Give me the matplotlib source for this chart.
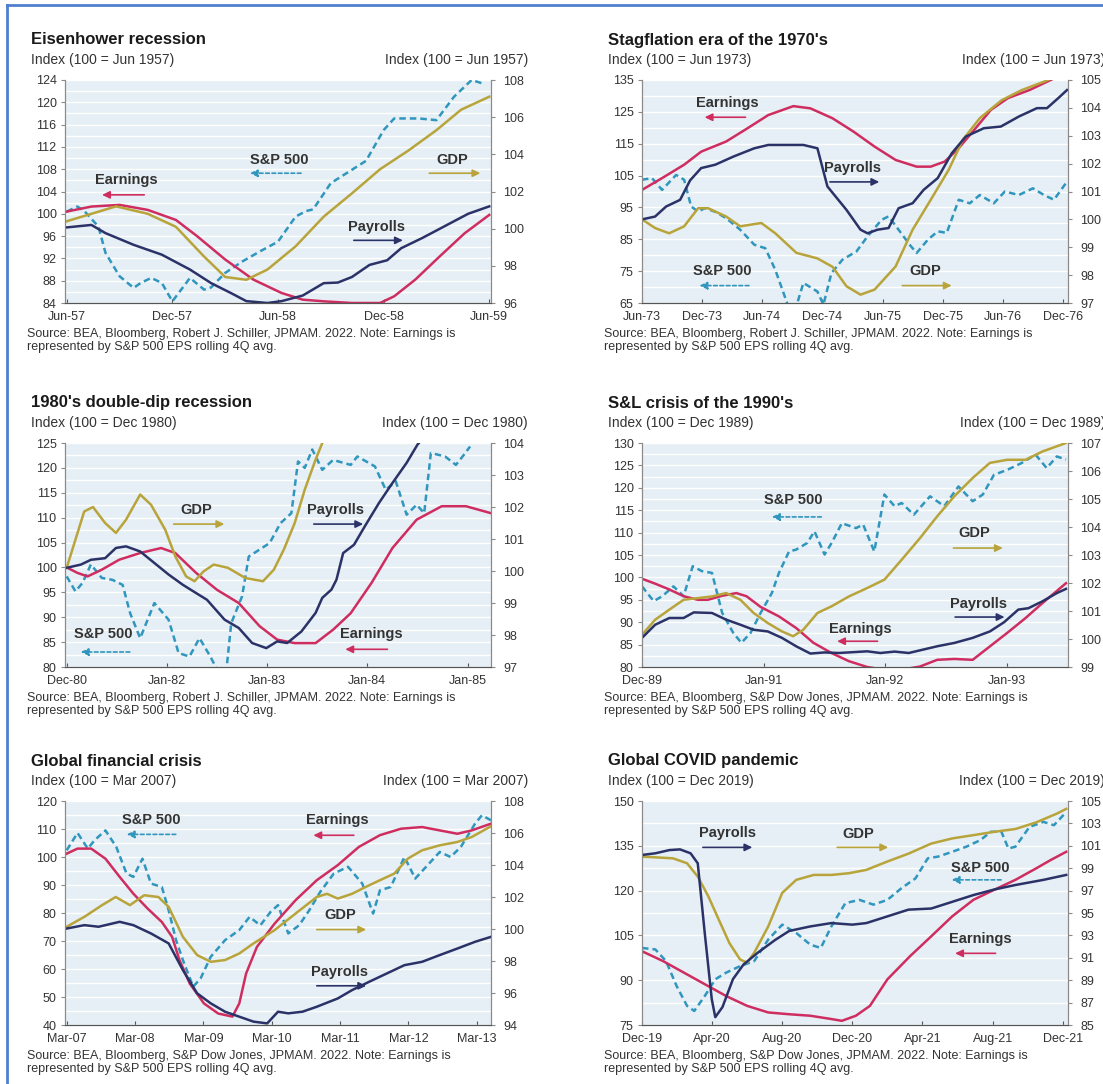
import numpy as np
import matplotlib.pyplot as plt
from matplotlib.lines import Line2D
from matplotlib.ticker import AutoMinorLocator

plt.rcParams['font.family'] = ['Liberation Sans', 'DejaVu Sans']

W, H = 1103, 1084

# colours
EARN_C = '#cf2d60'
PAY_C = '#2b3268'
GDP_C = '#b8a43a'
SP_C = '#3096bd'
BG_C = '#e5eff5'
TXT_C = '#333333'

SRC_SHILLER = ("Source: BEA, Bloomberg, Robert J. Schiller, JPMAM. 2022. Note: Earnings is\n"
               "represented by S&P 500 EPS rolling 4Q avg.")
SRC_DJ = ("Source: BEA, Bloomberg, S&P Dow Jones, JPMAM. 2022. Note: Earnings is\n"
          "represented by S&P 500 EPS rolling 4Q avg.")

# ==========================================
# 1. DATA  (x = months after the base month)
# ==========================================

# --- Eisenhower recession, base Jun-57 ---
eis_xticks = [0, 6, 12, 18, 24]
eis_xlabels = ['Jun-57', 'Dec-57', 'Jun-58', 'Dec-58', 'Jun-59']
eis_earn = [(0, 100.4), (1.4, 101.3), (3, 101.6), (4.6, 100.7), (6.2, 98.9), (7.4, 96), (9, 91.8),
            (10.6, 88.2), (12.2, 85.8), (13.4, 84.6), (14.6, 84.3), (16.2, 84), (17.8, 84),
            (18.6, 85.2), (19.8, 88.2), (21.2, 92.4), (22.6, 96.5), (24, 99.8)]
eis_sp = [(0, 100.4), (0.6, 101.3), (1, 100.5), (1.8, 97.7), (2.2, 93), (3, 88.8), (3.8, 86.7),
          (4.2, 87.6), (4.8, 88.5), (5.4, 87.6), (6, 84.3), (7, 88.5), (7.8, 86.4), (8.2, 86.8),
          (9, 89.4), (10, 91.5), (11, 93.3), (12, 95), (13, 99.5), (13.6, 100.5), (14, 100.8),
          (15, 105.5), (16, 107.5), (17, 109.5), (18, 115), (18.6, 117.1), (20, 117.1),
          (21, 116.8), (22, 121), (23, 124), (23.6, 123.4)]
eis_gdp = [(0, 100.4), (2.8, 101.2), (4.6, 100.8), (6.2, 100.1), (7.8, 98.5), (9, 97.4),
           (10.2, 97.25), (11.4, 97.8), (13, 99.05), (14.6, 100.65), (16.2, 101.9), (17.8, 103.2),
           (19.4, 104.2), (21, 105.3), (22.4, 106.4), (24, 107.1)]
eis_pay = [(0, 100.07), (1.4, 100.2), (2.2, 99.76), (3.8, 99.13), (5.4, 98.6), (7, 97.8),
           (8.2, 97.07), (9.4, 96.5), (10.2, 96.1), (11.4, 96.0), (12.2, 96.1), (13.4, 96.4),
           (14.6, 97.07), (15.4, 97.1), (16.2, 97.4), (17.2, 98.05), (18.2, 98.3), (19, 98.95),
           (20.2, 99.5), (21.4, 100.1), (22.8, 100.8), (24, 101.2)]

# --- Stagflation era, base Jun-73 ---
stag_xticks = [0, 6, 12, 18, 24, 30, 36, 42]
stag_xlabels = ['Jun-73', 'Dec-73', 'Jun-74', 'Dec-74', 'Jun-75', 'Dec-75', 'Jun-76', 'Dec-76']
stag_earn = [(0, 100.5), (2, 104.2), (4.2, 108.4), (5.9, 112.5), (8.4, 115.7), (10.5, 119.8),
             (12.6, 124), (15.1, 126.8), (16.8, 126.1), (19, 123), (21.1, 118.8), (23.2, 114.1),
             (25.3, 109.9), (27.4, 107.8), (28.8, 107.8), (30.2, 109.4), (31.6, 113.6), (33, 118.8),
             (34.8, 125.6), (36.5, 129.3), (38.7, 131.9), (41.1, 135.5)]
stag_sp = [(0, 103.7), (1, 104.2), (2, 100.5), (3.4, 105.2), (4.2, 103.7), (4.9, 95.3), (5.6, 93.7),
           (6.3, 94.8), (7.4, 93.5), (8.4, 91.6), (9.8, 88), (11.2, 83.3), (12.3, 82.2), (13.3, 75.4),
           (14.7, 63), (15.4, 64), (16.1, 71.3), (17.5, 68.6), (18.1, 64.5), (18.9, 74.4), (20, 78.6),
           (21.4, 81.2), (22.5, 85.9), (23.9, 91.1), (24.6, 92.2), (25.6, 88), (26.7, 83.3),
           (27.4, 80.7), (28.5, 84.8), (29.5, 87.5), (30.4, 87), (31.6, 97.4), (32.7, 96.3),
           (33.7, 98.9), (35.1, 96.3), (36.2, 100), (37.6, 98.9), (39, 101), (40.1, 98.9),
           (41.1, 97.4), (42.4, 103.1)]
stag_gdp = [(0, 100), (1.3, 99.69), (2.7, 99.5), (4.2, 99.75), (5.6, 100.4), (6.6, 100.4),
            (8.4, 100.1), (9.8, 99.75), (11.9, 99.87), (13.3, 99.5), (15.4, 98.8), (17.5, 98.6),
            (19, 98.3), (20.4, 97.6), (21.8, 97.3), (23.2, 97.48), (25.3, 98.31), (27, 99.63),
            (28.8, 100.7), (30.6, 101.78), (32, 102.85), (33.7, 103.63), (35.9, 104.28),
            (37.9, 104.64), (40.1, 104.94), (41.1, 105.1)]
stag_pay = [(0, 100), (1.3, 100.1), (2.4, 100.46), (3.8, 100.7), (4.8, 101.4), (5.9, 101.84),
            (7.3, 101.96), (9.1, 102.25), (11.2, 102.55), (12.6, 102.67), (14, 102.67),
            (16.1, 102.67), (17.5, 102.55), (18.5, 101.18), (20.4, 100.34), (21.8, 99.63),
            (22.5, 99.5), (23.5, 99.63), (24.6, 99.69), (25.6, 100.4), (27, 100.58), (28.1, 101.06),
            (29.5, 101.48), (30.9, 102.37), (32.3, 102.97), (34.1, 103.27), (35.8, 103.33),
            (37.6, 103.69), (39.4, 103.99), (40.4, 103.99), (41.5, 104.34), (42.4, 104.64)]

# --- 1980's double-dip, base Dec-80 ---
dd_xticks = [0, 12, 24, 36, 48]
dd_xlabels = ['Dec-80', 'Jan-82', 'Jan-83', 'Jan-84', 'Jan-85']
dd_earn = [(0, 100), (1.3, 98.9), (2.5, 98.2), (4.2, 99.55), (6.3, 101.56), (8.8, 102.9),
           (11.3, 103.9), (13, 102.9), (15.5, 98.9), (18, 95.5), (20.6, 92.85), (23.1, 88.2),
           (25.2, 85.5), (27.3, 84.8), (29.8, 84.8), (31.9, 87.5), (34, 90.8), (36.5, 96.9),
           (39, 103.9), (41.9, 109.6), (44.9, 112.3), (47.8, 112.3), (50.8, 110.9)]
dd_sp = [(0, 98.2), (1.05, 95.2), (1.9, 96.9), (2.9, 100.6), (4.2, 97.9), (5.5, 97.5), (6.7, 96.5),
         (7.6, 90.8), (8.8, 85.8), (10.5, 92.85), (12.2, 89.5), (13.4, 82.8), (14.7, 82.1),
         (15.9, 85.8), (17.2, 82.1), (18, 79.5), (19.1, 79), (19.7, 88.8), (21, 94.2), (21.8, 102.2),
         (23.1, 103.6), (24.3, 104.9), (25.6, 108.9), (26.9, 110.9), (27.7, 121.3), (28.5, 120),
         (29.4, 123.7), (30.6, 119.6), (31.9, 121.6), (34, 120.6), (34.8, 122.3), (36.9, 120.3),
         (38.2, 115.6), (39.4, 117.3), (40.7, 110.6), (41.9, 112.6), (42.8, 110.9), (43.6, 123),
         (45.3, 122.3), (46.6, 120.6), (47.4, 122.3), (48.3, 124.3)]
dd_gdp = [(0, 100.1), (1.05, 100.98), (2.1, 101.86), (3.15, 102.0), (4.6, 101.5), (5.9, 101.19),
          (7.1, 101.6), (8.8, 102.39), (10.1, 102.07), (11.8, 101.29), (13, 100.46), (14.3, 99.83),
          (15.3, 99.68), (16.4, 99.99), (17.6, 100.2), (19.3, 100.1), (21.4, 99.78), (23.5, 99.68),
          (24.8, 100.04), (26, 100.67), (27.3, 101.5), (28.5, 102.54), (29.8, 103.48), (30.6, 104),
          (31.5, 104.5)]
dd_pay = [(0, 100.1), (1.7, 100.2), (2.9, 100.35), (4.6, 100.4), (5.9, 100.72), (7.1, 100.77),
          (8.8, 100.61), (10.5, 100.25), (12.2, 99.89), (13.9, 99.57), (15.5, 99.31), (16.8, 99.1),
          (18.9, 98.48), (20.6, 98.22), (22.2, 97.75), (23.9, 97.59), (25.2, 97.8), (26.4, 97.75),
          (28.1, 98.11), (29.8, 98.69), (30.6, 99.16), (31.7, 99.42), (32.3, 99.73), (33.1, 100.56),
          (34.4, 100.82), (35.7, 101.4), (37.4, 102.13), (39, 102.75), (40.7, 103.38), (42, 103.95),
          (42.5, 104.1)]

# --- S&L crisis, base Dec-89 ---
snl_xticks = [0, 12, 24, 36]
snl_xlabels = ['Dec-89', 'Jan-91', 'Jan-92', 'Jan-93']
snl_earn = [(0, 99.7), (1.3, 98.6), (2.7, 97.3), (4.1, 95.8), (5.5, 95.0), (6.5, 95.0), (7.9, 95.9),
            (9.3, 96.5), (10.3, 95.8), (11.7, 93.4), (13.5, 91.3), (15.2, 88.7), (16.9, 85.4),
            (18.7, 83.1), (20.4, 81.3), (22.2, 80), (23.9, 79.4), (25.6, 79.4), (27.4, 80.1),
            (29.1, 81.6), (30.8, 81.8), (32.6, 81.6), (34.3, 84.6), (36, 87.6), (37.8, 90.9),
            (39.5, 94.3), (41.8, 98.7)]
snl_sp = [(0, 98), (1.15, 94.7), (2, 95.8), (3.1, 98), (4.1, 95.8), (5, 102.5), (5.9, 101.4),
          (6.9, 101), (7.9, 92.1), (9, 87.6), (9.8, 85.4), (10.7, 87.6), (11.7, 92.1), (12.8, 96.5),
          (13.5, 101), (14.5, 105.8), (15.2, 106.2), (16.3, 107.7), (17, 110.3), (18, 105.1),
          (18.7, 107.7), (19.7, 112.1), (21.1, 111), (21.8, 111.8), (22.9, 105.8), (23.9, 118.5),
          (24.9, 115.9), (25.6, 116.6), (26.8, 114), (28.4, 118.1), (29.8, 115.9), (31.2, 120.3),
          (32.6, 117), (33.6, 118.5), (34.7, 122.9), (36, 124), (37.4, 125.5), (38.8, 127.4),
          (39.9, 124.4), (40.9, 127), (41.8, 126.3)]
snl_gdp = [(0, 100.15), (1.3, 100.69), (2.7, 101.05), (4.1, 101.4), (5.5, 101.46), (6.9, 101.52),
           (8.3, 101.64), (9.7, 101.4), (11, 100.93), (12.4, 100.57), (13.8, 100.27), (14.9, 100.1),
           (15.9, 100.33), (17.3, 100.93), (18.7, 101.17), (20.4, 101.52), (22.2, 101.82),
           (23.9, 102.12), (25.6, 102.83), (27.4, 103.6), (29.1, 104.38), (30.8, 105.1),
           (32.6, 105.75), (34.3, 106.29), (36, 106.4), (37.8, 106.4), (39.5, 106.7), (41.8, 107)]
snl_pay = [(0, 100.04), (1.3, 100.51), (2.7, 100.75), (4.1, 100.75), (5.1, 100.95), (6.9, 100.93),
           (8.3, 100.69), (9.7, 100.51), (11, 100.33), (12.4, 100.27), (13.8, 100.04), (15.2, 99.74),
           (16.6, 99.48), (18, 99.52), (19.4, 99.5), (20.8, 99.53), (22.2, 99.56), (23.5, 99.5),
           (24.9, 99.55), (26.3, 99.5), (27.7, 99.62), (29.1, 99.74), (30.8, 99.86), (32.6, 100.04),
           (34.3, 100.27), (35.7, 100.6), (37.1, 101.05), (38.1, 101.1), (39.5, 101.35),
           (40.9, 101.64), (41.8, 101.79)]

# --- Global financial crisis, base Mar-07 ---
gfc_xticks = [0, 12, 24, 36, 48, 60, 72]
gfc_xlabels = ['Mar-07', 'Mar-08', 'Mar-09', 'Mar-10', 'Mar-11', 'Mar-12', 'Mar-13']
gfc_earn = [(0, 101.2), (1.9, 103), (4.3, 103), (6.8, 99.4), (9.3, 92.9), (11.7, 86.9), (14.2, 81.6),
            (16.7, 76.8), (18.5, 71.5), (19.8, 63.2), (21.6, 54.8), (24.1, 47.7), (26.6, 44.1),
            (29.1, 43), (30.3, 47.7), (31.5, 58.4), (33.4, 67.9), (36.5, 76.2), (40.2, 84.6),
            (43.9, 91.7), (47.6, 97.1), (51.3, 103.6), (55, 107.8), (58.7, 110.1), (62.4, 110.7),
            (65.5, 109.5), (68.6, 108.3), (71.1, 109.5), (74.5, 111.9)]
gfc_sp = [(0, 102.4), (1.9, 108.6), (3.7, 103), (4.9, 106), (6.8, 109.5), (8.7, 103.6), (10.5, 94.1),
          (11.7, 92.9), (13.3, 99.4), (14.8, 90.5), (16.7, 89.3), (17.9, 81), (19.2, 70.3),
          (20.4, 63.2), (22.2, 53.7), (23.5, 56.6), (25.3, 64.4), (27.8, 70.3), (30.3, 73.9),
          (32.1, 78.6), (34, 75.6), (35.8, 80.4), (37.1, 82.8), (38.9, 72.7), (40.8, 75.6),
          (42.6, 81), (44.5, 87.5), (46.9, 94.1), (49.4, 96.5), (51.9, 90.5), (53.8, 79.8),
          (55, 88.1), (56.9, 89.3), (59.3, 100), (61.2, 92.3), (63.1, 96.5), (65.5, 101.8),
          (67.4, 100), (69.2, 103.6), (71.7, 111.9), (72.9, 114.9), (74.5, 113.1)]
gfc_gdp = [(0, 100.14), (3.1, 100.76), (6.2, 101.49), (8.6, 102), (11.1, 101.49), (13.6, 102.11),
           (16.1, 102), (17.9, 101.38), (20.4, 99.51), (22.9, 98.37), (25.3, 97.95), (27.8, 98.06),
           (30.3, 98.47), (32.8, 99.1), (36.5, 99.93), (40.2, 100.97), (43.9, 102), (45.7, 102.2),
           (47.6, 101.9), (50.1, 102.2), (52.5, 102.63), (55, 103.05), (57.5, 103.46), (59.9, 104.4),
           (62.4, 104.92), (65.5, 105.23), (68.6, 105.44), (71.1, 105.75), (74.5, 106.42)]
gfc_pay = [(0, 100.03), (3.1, 100.24), (5.6, 100.14), (9.3, 100.45), (11.7, 100.24), (14.8, 99.72),
           (17.9, 99.1), (20.4, 97.43), (22.9, 95.98), (25.3, 95.35), (27.8, 94.83), (30.3, 94.52),
           (32.8, 94.21), (35.2, 94.1), (37.1, 94.83), (38.9, 94.73), (41.4, 94.83), (43.9, 95.14),
           (47.6, 95.66), (50.1, 96.18), (53.1, 96.7), (56.2, 97.22), (59.3, 97.74), (62.4, 97.95),
           (65.5, 98.37), (68.6, 98.78), (71.7, 99.2), (74.5, 99.51)]

# --- Global COVID pandemic, base Dec-19 ---
cov_xticks = [0, 4, 8, 12, 16, 20, 24]
cov_xlabels = ['Dec-19', 'Apr-20', 'Aug-20', 'Dec-20', 'Apr-21', 'Aug-21', 'Dec-21']
cov_earn = [(0, 99.7), (1.2, 96.4), (2.4, 92.5), (3.6, 88.6), (4.8, 84.7), (6, 81.4), (7.2, 79.2),
            (8.4, 78.6), (9.6, 78.1), (10.8, 77), (11.4, 76.4), (12.2, 78.1), (13, 81.4), (14, 90.3),
            (15.3, 98.1), (16.5, 104.7), (17.7, 111.4), (18.9, 116.9), (20.1, 120.3), (21.3, 123.6),
            (22.5, 127.5), (23.3, 130.2), (24.2, 133)]
cov_sp = [(0, 100.8), (0.76, 100.3), (1.37, 96.4), (1.97, 88.1), (2.57, 81.4), (2.98, 79.7),
          (3.58, 84.7), (4.18, 90.3), (4.79, 92.5), (5.59, 94.7), (6.4, 96.4), (7.2, 103.6),
          (8, 108.6), (8.8, 105.8), (9.6, 101.9), (10.2, 100.8), (10.8, 108), (11.6, 115.8),
          (12.4, 116.9), (13.2, 115.3), (14, 116.9), (14.8, 120.8), (15.6, 124.1), (16.3, 130.8),
          (16.9, 131.4), (17.7, 133), (18.5, 134.7), (19.3, 136.9), (19.9, 139.7), (20.5, 139.7),
          (20.9, 134.1), (21.3, 134.7), (22.1, 141.3), (22.9, 143), (23.5, 141.9), (24.2, 146.3)]
cov_gdp = [(0, 100.03), (0.76, 99.97), (1.77, 99.88), (2.57, 99.44), (3.18, 98.25), (3.78, 96.5),
           (4.38, 94.4), (4.99, 92.3), (5.59, 90.86), (5.99, 90.56), (6.4, 91.45), (7.2, 93.8),
           (8, 96.8), (8.8, 97.96), (9.8, 98.4), (10.8, 98.4), (11.8, 98.55), (12.8, 98.85),
           (14, 99.6), (15.2, 100.3), (16.5, 101.2), (17.7, 101.66), (18.9, 101.95), (20.1, 102.25),
           (21.3, 102.5), (22.5, 103.1), (23.7, 103.9), (24.2, 104.3)]
cov_pay = [(0, 100.18), (0.76, 100.33), (1.57, 100.62), (2.17, 100.68), (2.77, 100.33), (3.18, 99.44),
           (3.58, 93.2), (3.98, 87.3), (4.18, 85.7), (4.59, 86.6), (5.19, 89.1), (5.79, 90.4),
           (6.6, 91.45), (7.6, 92.6), (8.4, 93.4), (9.6, 93.8), (10.8, 94.1), (12, 93.96),
           (12.8, 94.1), (14, 94.7), (15.2, 95.3), (16.5, 95.4), (17.7, 96), (18.9, 96.6),
           (20.1, 97.1), (21.3, 97.5), (22.9, 97.96), (24.2, 98.4)]

# ==========================================
# 2. DRAWING HELPERS
# ==========================================
fig = plt.figure(figsize=(W / 100, H / 100), dpi=100)

COLS = [(65, 491), (642, 1068)]       # axes left/right in px
ROWS = [(80, 303), (443, 667), (801, 1025)]  # axes top/bottom in px
TEXT_X = [31, 608]


def fx(px):
    return px / W


def fy(py):
    return 1 - py / H


def draw_panel(col, row, title, base, xlim, xticks, xlabels, llim, lstep, rlim, rstep,
               earn, sp, gdp, pay, labels, source):
    x0, x1 = COLS[col]
    top, bot = ROWS[row]
    ax = fig.add_axes([fx(x0), fy(bot), (x1 - x0) / W, (bot - top) / H])
    ax2 = ax.twinx()

    ax.set_facecolor(BG_C)
    ax.set_xlim(xlim)
    ax.set_ylim(llim)
    ax2.set_ylim(rlim)
    ax.set_yticks(np.arange(llim[0], llim[1] + 0.01, lstep))
    ax2.set_yticks(np.arange(rlim[0], rlim[1] + 0.01, rstep))
    ax.set_xticks(xticks)
    ax.set_xticklabels(xlabels)

    ax.yaxis.set_minor_locator(AutoMinorLocator(2))
    ax.grid(which='both', axis='y', color='white', lw=1.0)
    ax.set_axisbelow(True)

    for a in (ax, ax2):
        a.spines['top'].set_visible(False)
        a.spines['left'].set_color('#8a8a8a')
        a.spines['right'].set_color('#8a8a8a')
        a.spines['bottom'].set_color('#555555')
        a.tick_params(which='minor', length=0)
    ax.tick_params(axis='y', direction='out', length=3, pad=3, labelsize=9, colors='#8a8a8a',
                   labelcolor=TXT_C)
    ax2.tick_params(axis='y', direction='out', length=3, pad=6, labelsize=9, colors='#8a8a8a',
                    labelcolor=TXT_C)
    ax.tick_params(axis='x', direction='in', length=3, pad=6, labelsize=9, colors='#555555',
                   labelcolor=TXT_C)

    ax.plot(*zip(*sp), color=SP_C, lw=1.8, dashes=(2.6, 1.6))
    ax.plot(*zip(*earn), color=EARN_C, lw=1.8)
    ax2.plot(*zip(*gdp), color=GDP_C, lw=1.8)
    ax2.plot(*zip(*pay), color=PAY_C, lw=1.8)

    colors = {'Earnings': EARN_C, 'S&P 500': SP_C, 'GDP': GDP_C, 'Payrolls': PAY_C}
    for name, (tx, ty, a0, a1, ay) in labels.items():
        ax2.text(tx, ty, name, transform=ax2.transAxes, ha='center', va='center',
                 fontsize=10.5, fontweight='bold', color=TXT_C)
        ls = (0, (2.2, 1.6)) if name == 'S&P 500' else '-'
        ax2.annotate('', xy=(a1, ay), xytext=(a0, ay), xycoords='axes fraction',
                     arrowprops=dict(arrowstyle='-|>,head_length=0.45,head_width=0.22',
                                     color=colors[name], lw=1.2, linestyle=ls,
                                     shrinkA=0, shrinkB=0))

    tx = TEXT_X[col]
    fig.text(fx(tx), fy(top - 40), title, fontsize=12, fontweight='bold', color='#1a1a1a',
             ha='left', va='center')
    fig.text(fx(tx), fy(top - 20), 'Index (100 = %s)' % base, fontsize=10, color=TXT_C,
             ha='left', va='center')
    fig.text(fx(x1 + 37), fy(top - 20), 'Index (100 = %s)' % base, fontsize=10, color=TXT_C,
             ha='right', va='center')
    fig.text(fx(tx - 4), fy(bot + 25), source, fontsize=9, color=TXT_C, ha='left', va='top',
             linespacing=1.15)


# ==========================================
# 3. PANELS
# ==========================================
draw_panel(0, 0, 'Eisenhower recession', 'Jun 1957', (-0.1, 24.1), eis_xticks, eis_xlabels,
           (84, 124), 4, (96, 108), 2, eis_earn, eis_sp, eis_gdp, eis_pay,
           {'S&P 500': (0.504, 0.642, 0.554, 0.434, 0.582),
            'Earnings': (0.145, 0.552, 0.186, 0.087, 0.485),
            'GDP': (0.909, 0.642, 0.855, 0.975, 0.582),
            'Payrolls': (0.731, 0.343, 0.678, 0.793, 0.281)}, SRC_SHILLER)

draw_panel(1, 0, "Stagflation era of the 1970's", 'Jun 1973', (0, 42.5), stag_xticks, stag_xlabels,
           (65, 135), 10, (97, 105), 1, stag_earn, stag_sp, stag_gdp, stag_pay,
           {'Earnings': (0.201, 0.896, 0.243, 0.147, 0.833),
            'Payrolls': (0.493, 0.604, 0.441, 0.557, 0.543),
            'S&P 500': (0.189, 0.142, 0.251, 0.135, 0.078),
            'GDP': (0.665, 0.142, 0.611, 0.727, 0.078)}, SRC_SHILLER)

draw_panel(0, 1, "1980's double-dip recession", 'Dec 1980', (-0.2, 50.8), dd_xticks, dd_xlabels,
           (80, 125), 5, (97, 104), 1, dd_earn, dd_sp, dd_gdp, dd_pay,
           {'GDP': (0.309, 0.702, 0.255, 0.374, 0.638),
            'Payrolls': (0.634, 0.702, 0.584, 0.700, 0.638),
            'Earnings': (0.72, 0.146, 0.757, 0.658, 0.079),
            'S&P 500': (0.09, 0.146, 0.152, 0.037, 0.067)}, SRC_SHILLER)

draw_panel(1, 1, "S&L crisis of the 1990's", 'Dec 1989', (0, 42), snl_xticks, snl_xlabels,
           (80, 130), 5, (99, 107), 1, snl_earn, snl_sp, snl_gdp, snl_pay,
           {'S&P 500': (0.354, 0.744, 0.421, 0.305, 0.67),
            'GDP': (0.781, 0.598, 0.731, 0.847, 0.531),
            'Payrolls': (0.789, 0.283, 0.735, 0.851, 0.223),
            'Earnings': (0.512, 0.17, 0.553, 0.458, 0.115)}, SRC_DJ)

draw_panel(0, 2, 'Global financial crisis', 'Mar 2007', (-0.3, 74.5), gfc_xticks, gfc_xlabels,
           (40, 120), 10, (94, 108), 2, gfc_earn, gfc_sp, gfc_gdp, gfc_pay,
           {'S&P 500': (0.202, 0.917, 0.26, 0.145, 0.851),
            'Earnings': (0.64, 0.914, 0.678, 0.583, 0.847),
            'GDP': (0.645, 0.49, 0.591, 0.707, 0.426),
            'Payrolls': (0.645, 0.238, 0.591, 0.707, 0.175)}, SRC_DJ)

draw_panel(1, 2, 'Global COVID pandemic', 'Dec 2019', (0, 24.3), cov_xticks, cov_xlabels,
           (75, 150), 15, (85, 105), 2, cov_earn, cov_sp, cov_gdp, cov_pay,
           {'Payrolls': (0.201, 0.855, 0.143, 0.259, 0.793),
            'GDP': (0.507, 0.851, 0.458, 0.578, 0.793),
            'S&P 500': (0.793, 0.70, 0.843, 0.727, 0.648),
            'Earnings': (0.793, 0.382, 0.83, 0.735, 0.32)}, SRC_DJ)

# blue frame on the left and top edge
fig.add_artist(Line2D([fx(7), fx(7)], [fy(5), 0], color='#4f7fcf', lw=2))
fig.add_artist(Line2D([fx(7), 1], [fy(5), fy(5)], color='#4f7fcf', lw=2))

plt.savefig('out.png', dpi=100)
